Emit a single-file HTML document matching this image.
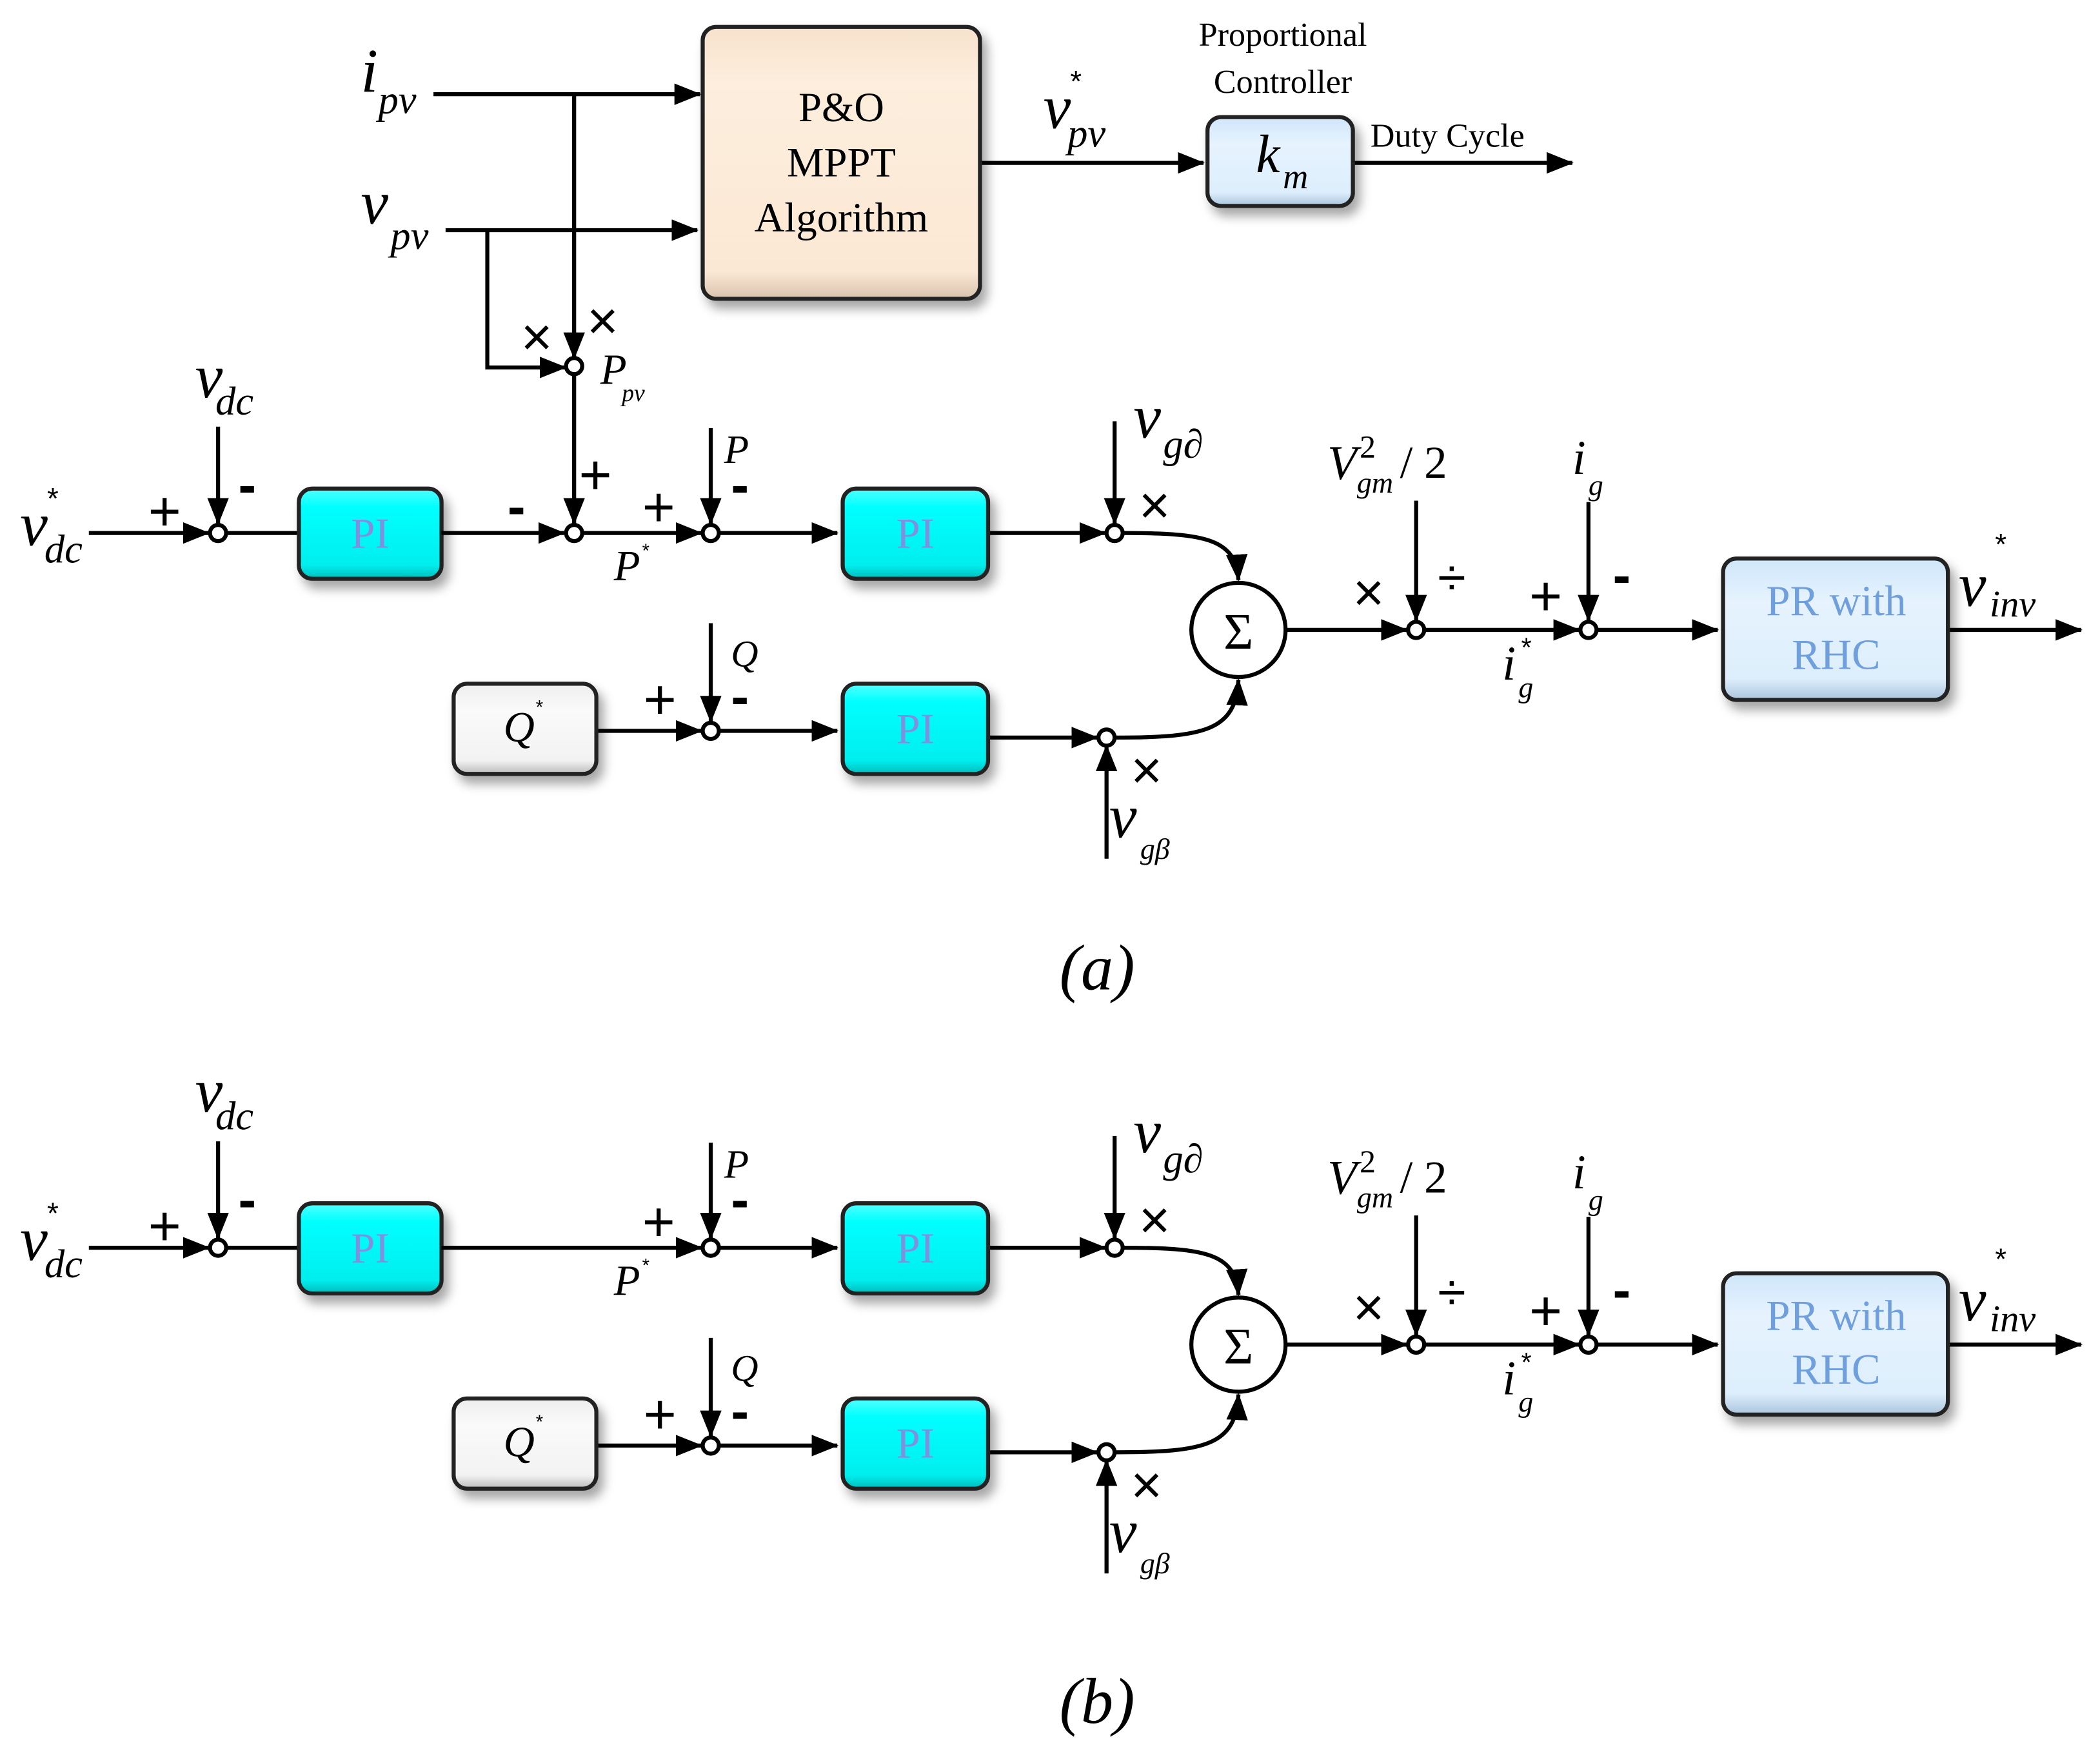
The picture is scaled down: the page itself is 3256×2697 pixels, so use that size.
<!DOCTYPE html>
<html><head><meta charset="utf-8"><style>
html,body{margin:0;padding:0;background:#fff;}
svg{display:block;}
text{font-family:"Liberation Serif",serif;fill:#000;}
.m{font-style:italic;}
.s{font-family:"Liberation Sans",sans-serif;}
.pm{font-family:"Liberation Sans",sans-serif;font-size:42px;}
.mi{font-family:"Liberation Sans",sans-serif;font-size:40px;font-weight:bold;}
.x{font-family:"Liberation Sans",sans-serif;font-size:40px;}
</style></head><body>
<svg width="3256" height="2697" viewBox="0 0 1560 1292" preserveAspectRatio="none" xmlns="http://www.w3.org/2000/svg">
<defs>
<marker id="a" markerUnits="userSpaceOnUse" markerWidth="20" markerHeight="16" refX="19" refY="8" orient="auto"><path d="M0,0 L20,8 L0,16 z" fill="#000"/></marker>
<filter id="sh" x="-20%" y="-20%" width="150%" height="160%"><feDropShadow dx="4" dy="6" stdDeviation="4" flood-color="#000" flood-opacity="0.35"/></filter>
<linearGradient id="cy" x1="0" y1="0" x2="0" y2="1"><stop offset="0" stop-color="#5ff"/><stop offset="0.2" stop-color="#0ff"/><stop offset="0.85" stop-color="#0ee"/><stop offset="1" stop-color="#0bb"/></linearGradient>
<linearGradient id="gr" x1="0" y1="0" x2="0" y2="1"><stop offset="0" stop-color="#eee"/><stop offset="0.3" stop-color="#fafafa"/><stop offset="0.85" stop-color="#f2f2f2"/><stop offset="1" stop-color="#bbb"/></linearGradient>
<linearGradient id="bl" x1="0" y1="0" x2="0" y2="1"><stop offset="0" stop-color="#cfe6fa"/><stop offset="0.3" stop-color="#e6f3fe"/><stop offset="0.85" stop-color="#ddeefc"/><stop offset="1" stop-color="#a9c4dc"/></linearGradient>
<linearGradient id="pe" x1="0" y1="0" x2="0" y2="1"><stop offset="0" stop-color="#f7e2cc"/><stop offset="0.2" stop-color="#fdeedd"/><stop offset="0.9" stop-color="#fbe8d4"/><stop offset="1" stop-color="#d8c2ad"/></linearGradient>
</defs>
<g stroke="#000" stroke-width="3" fill="none">
<line x1="322" y1="70" x2="520" y2="70" marker-end="url(#a)"/>
<line x1="331" y1="171" x2="518" y2="171" marker-end="url(#a)"/>
<line x1="426.5" y1="70" x2="426.5" y2="266" marker-end="url(#a)"/>
<polyline points="362,171 362,273 420,273" marker-end="url(#a)"/>
<line x1="426.5" y1="279" x2="426.5" y2="389" marker-end="url(#a)"/>
<line x1="728" y1="121" x2="894" y2="121" marker-end="url(#a)"/>
<line x1="1005" y1="121" x2="1168" y2="121" marker-end="url(#a)"/>
<circle cx="426.5" cy="272" r="6" fill="#fff"/>
</g>
<rect x="522" y="20" width="206" height="202" rx="10" fill="url(#pe)" stroke="#222" stroke-width="3" filter="url(#sh)"/>
<text x="625" y="90" font-size="31" text-anchor="middle">P&amp;O</text>
<text x="625" y="131" font-size="31" text-anchor="middle">MPPT</text>
<text x="625" y="172" font-size="31" text-anchor="middle">Algorithm</text>
<rect x="897" y="87" width="108" height="66" rx="10" fill="url(#bl)" stroke="#222" stroke-width="3" filter="url(#sh)"/>
<text x="933" y="128" font-size="40" class="m">k</text><text x="953" y="140" font-size="26" class="m">m</text>
<text x="953" y="34" font-size="25" text-anchor="middle">Proportional</text>
<text x="953" y="69" font-size="25" text-anchor="middle">Controller</text>
<text x="1018" y="109" font-size="25">Duty Cycle</text>
<text x="268" y="68" font-size="46" class="m">i</text><text x="281" y="84" font-size="30" class="m">pv</text>
<text x="268" y="166" font-size="46" class="m">v</text><text x="290" y="185" font-size="30" class="m">pv</text>
<text x="775" y="95" font-size="46" class="m">v</text><text x="793" y="109" font-size="30" class="m">pv</text><text x="795" y="68" font-size="22" class="s">*</text>
<text x="387" y="264" class="x">×</text><text x="436" y="252" class="x">×</text>
<text x="446" y="285" font-size="32" class="m">P</text><text x="462" y="298" font-size="18" class="m">pv</text>
<text x="430" y="367" class="pm">+</text>
<text x="377" y="390" class="mi">-</text>

<g id="blk">
<g stroke="#000" stroke-width="3" fill="none">
<line x1="66" y1="396" x2="155" y2="396" marker-end="url(#a)"/>
<line x1="162" y1="317" x2="162" y2="389" marker-end="url(#a)"/>
<line x1="168" y1="396" x2="224" y2="396"/>
<line x1="528" y1="318" x2="528" y2="389" marker-end="url(#a)"/>
<line x1="534" y1="396" x2="622" y2="396" marker-end="url(#a)"/>
<line x1="734" y1="396" x2="821" y2="396" marker-end="url(#a)"/>
<line x1="828" y1="313" x2="828" y2="389" marker-end="url(#a)"/>
<path d="M834,396 C895,396 918,400 920,431" marker-end="url(#a)"/>
<line x1="443" y1="543" x2="521" y2="543" marker-end="url(#a)"/>
<line x1="528" y1="463" x2="528" y2="536" marker-end="url(#a)"/>
<line x1="534" y1="543" x2="622" y2="543" marker-end="url(#a)"/>
<line x1="734" y1="548" x2="815" y2="548" marker-end="url(#a)"/>
<line x1="822" y1="638" x2="822" y2="554" marker-end="url(#a)"/>
<path d="M828,548 C895,548 918,543 920,505" marker-end="url(#a)"/>
<line x1="955" y1="468" x2="1045" y2="468" marker-end="url(#a)"/>
<line x1="1052" y1="372" x2="1052" y2="461" marker-end="url(#a)"/>
<line x1="1058" y1="468" x2="1173" y2="468" marker-end="url(#a)"/>
<line x1="1180" y1="373" x2="1180" y2="461" marker-end="url(#a)"/>
<line x1="1186" y1="468" x2="1276" y2="468" marker-end="url(#a)"/>
<line x1="1447" y1="468" x2="1546" y2="468" marker-end="url(#a)"/>
<circle cx="162" cy="396" r="6" fill="#fff"/>
<circle cx="528" cy="396" r="6" fill="#fff"/>
<circle cx="828" cy="396" r="6" fill="#fff"/>
<circle cx="528" cy="543" r="6" fill="#fff"/>
<circle cx="822" cy="548" r="6" fill="#fff"/>
<circle cx="1052" cy="468" r="6" fill="#fff"/>
<circle cx="1180" cy="468" r="6" fill="#fff"/>
<circle cx="920" cy="468" r="35" fill="#fff"/>
</g>
<rect x="222" y="363" width="106" height="67" rx="10" fill="url(#cy)" stroke="#222" stroke-width="3" filter="url(#sh)"/>
<rect x="626" y="363" width="108" height="67" rx="10" fill="url(#cy)" stroke="#222" stroke-width="3" filter="url(#sh)"/>
<rect x="626" y="508" width="108" height="67" rx="10" fill="url(#cy)" stroke="#222" stroke-width="3" filter="url(#sh)"/>
<rect x="337" y="508" width="106" height="67" rx="10" fill="url(#gr)" stroke="#222" stroke-width="3" filter="url(#sh)"/>
<rect x="1280" y="415" width="167" height="105" rx="10" fill="url(#bl)" stroke="#222" stroke-width="3" filter="url(#sh)"/>
<text x="275" y="407" font-size="32" text-anchor="middle" style="fill:#8090e0">PI</text>
<text x="680" y="407" font-size="32" text-anchor="middle" style="fill:#8090e0">PI</text>
<text x="680" y="552" font-size="32" text-anchor="middle" style="fill:#8090e0">PI</text>
<text x="1364" y="457" font-size="32" text-anchor="middle" style="fill:#6f9fdc">PR with</text>
<text x="1364" y="497" font-size="32" text-anchor="middle" style="fill:#6f9fdc">RHC</text>
<text x="374" y="551" font-size="32" class="m">Q</text><text x="398" y="530" font-size="14" class="s">*</text>
<text x="920" y="482" font-size="38" text-anchor="middle">Σ</text>
<text x="15" y="405" font-size="46" class="m">v</text><text x="33" y="418" font-size="30" class="m">dc</text><text x="35" y="378" font-size="22" class="s">*</text>
<text x="145" y="295" font-size="46" class="m">v</text><text x="160" y="308" font-size="30" class="m">dc</text>
<text x="110" y="394" class="pm">+</text>
<text x="177" y="374" class="mi">-</text>
<text x="477" y="391" class="pm">+</text>
<text x="543" y="374" class="mi">-</text>
<text x="456" y="431" font-size="32" class="m">P</text><text x="477" y="414" font-size="14" class="s">*</text>
<text x="538" y="344" font-size="30" class="m">P</text>
<text x="478" y="534" class="pm">+</text>
<text x="543" y="531" class="mi">-</text>
<text x="543" y="495" font-size="28" class="m">Q</text>
<text x="842" y="325" font-size="46" class="m">v</text><text x="864" y="340" font-size="30" class="m">g∂</text>
<text x="846" y="389" class="x">×</text>
<text x="840" y="586" class="x">×</text>
<text x="824" y="622" font-size="46" class="m">v</text><text x="847" y="638" font-size="22" class="m">gβ</text>
<text x="1005" y="454" class="x">×</text>
<text x="986" y="356" font-size="36" class="m">V</text><text x="1010" y="340" font-size="24">2</text><text x="1008" y="366" font-size="22" class="m">gm</text><text x="1040" y="355" font-size="34">/ 2</text>
<text x="1068" y="442" font-size="38" class="s">÷</text>
<text x="1136" y="457" class="pm">+</text>
<text x="1198" y="441" class="mi">-</text>
<text x="1168" y="352" font-size="36" class="m">i</text><text x="1180" y="368" font-size="22" class="m">g</text>
<text x="1116" y="505" font-size="36" class="m">i</text><text x="1128" y="518" font-size="22" class="m">g</text><text x="1130" y="488" font-size="20" class="s">*</text>
<text x="1455" y="450" font-size="46" class="m">v</text><text x="1478" y="458" font-size="28" class="m">inv</text><text x="1482" y="412" font-size="22" class="s">*</text>
</g>
<g stroke="#000" stroke-width="3" fill="none">
<line x1="328" y1="396" x2="419" y2="396" marker-end="url(#a)"/>
<line x1="433" y1="396" x2="521" y2="396" marker-end="url(#a)"/>
<circle cx="426.5" cy="396" r="6" fill="#fff"/>
</g>
<text x="815" y="735" font-size="48" text-anchor="middle" class="m">(a)</text>

<use href="#blk" transform="translate(0,531)"/>
<line x1="328" y1="927" x2="521" y2="927" stroke="#000" stroke-width="3" marker-end="url(#a)"/>
<circle cx="528" cy="927" r="6" fill="#fff" stroke="#000" stroke-width="3"/>
<text x="815" y="1280" font-size="48" text-anchor="middle" class="m">(b)</text>
</svg>
</body></html>
